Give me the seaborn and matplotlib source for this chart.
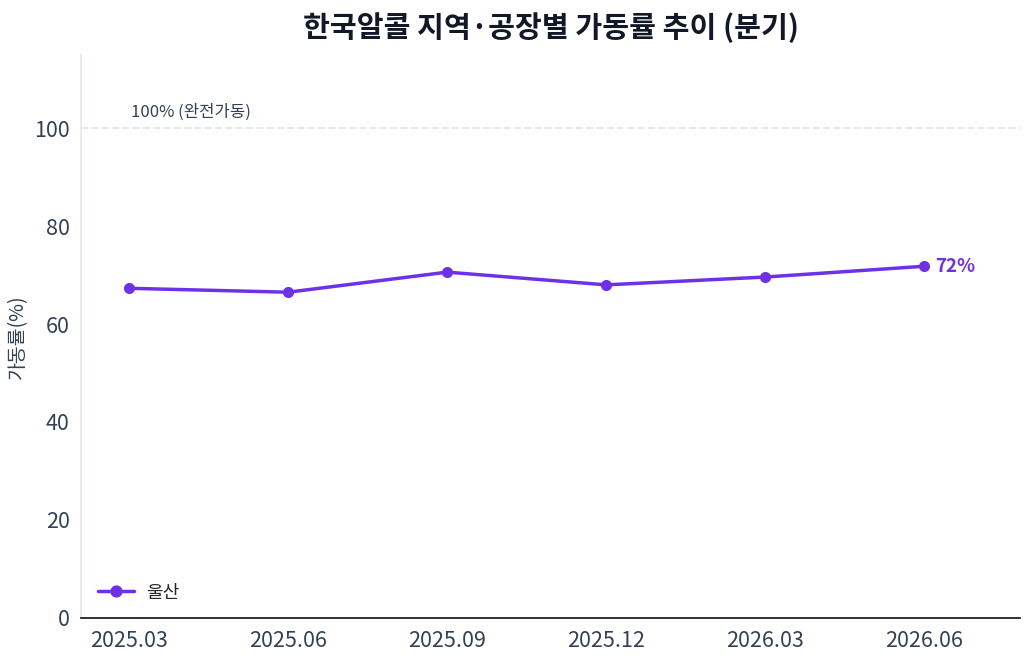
import matplotlib
matplotlib.use("Agg")
import matplotlib.pyplot as plt
import seaborn as sns
import pandas as pd

# 분기별 가동률 (울산)
quarters = ["2025.03", "2025.06", "2025.09", "2025.12", "2026.03", "2026.06"]
ulsan = [67.3, 66.5, 70.6, 68.0, 69.6, 71.8]
series_name = "울산"

df = pd.DataFrame({"분기": quarters, "가동률": ulsan, "지역": series_name})
df["x"] = range(len(quarters))

sns.set_theme(style="white")
plt.rcParams["font.family"] = ["Noto Sans CJK KR", "DejaVu Sans"]

purple = "#6d32e8"
dark = "#334155"

fig, ax = plt.subplots(figsize=(10.3, 6.6), dpi=100)
fig.subplots_adjust(left=0.079, right=0.99, top=0.917, bottom=0.064)

sns.lineplot(data=df, x="x", y="가동률", hue="지역", palette=[purple],
             marker="o", markersize=8, markeredgewidth=0, linewidth=2.5, ax=ax)

# 100% 기준선
ax.axhline(100, color="#e2e8f0", linestyle="--", linewidth=1.4, zorder=0)
ax.text(0.01, 101.5, "100% (완전가동)", fontsize=12, color=dark, ha="left", va="bottom")

# 마지막 값 라벨
ax.annotate(f"{round(ulsan[-1])}%", (df["x"].iloc[-1], ulsan[-1]), xytext=(8, 0),
            textcoords="offset points", color=purple, fontsize=13.5, fontweight="bold",
            va="center", ha="left")

ax.set_xlim(-0.3, 5.6)
ax.set_ylim(0, 115)
ax.set_xticks(df["x"])
ax.set_xticklabels(quarters)
ax.set_yticks([0, 20, 40, 60, 80, 100])
ax.tick_params(axis="both", labelsize=15.5, colors=dark, length=5, width=1)
ax.tick_params(axis="both", color="#64748b")
ax.set_xlabel("")
ax.set_ylabel("가동률(%)", fontsize=14, color=dark)

sns.despine(ax=ax)
ax.spines["left"].set_color("#e5e7eb")
ax.spines["bottom"].set_color("#111827")

ax.set_title("한국알콜 지역·공장별 가동률 추이 (분기)", fontsize=21, fontweight="bold",
             color="#111827", pad=13)

leg = ax.legend(loc="lower left", frameon=False, fontsize=13, handlelength=2.0,
                handletextpad=0.7, borderaxespad=0.5, markerscale=1.1)

fig.savefig("out.png", dpi=100)
